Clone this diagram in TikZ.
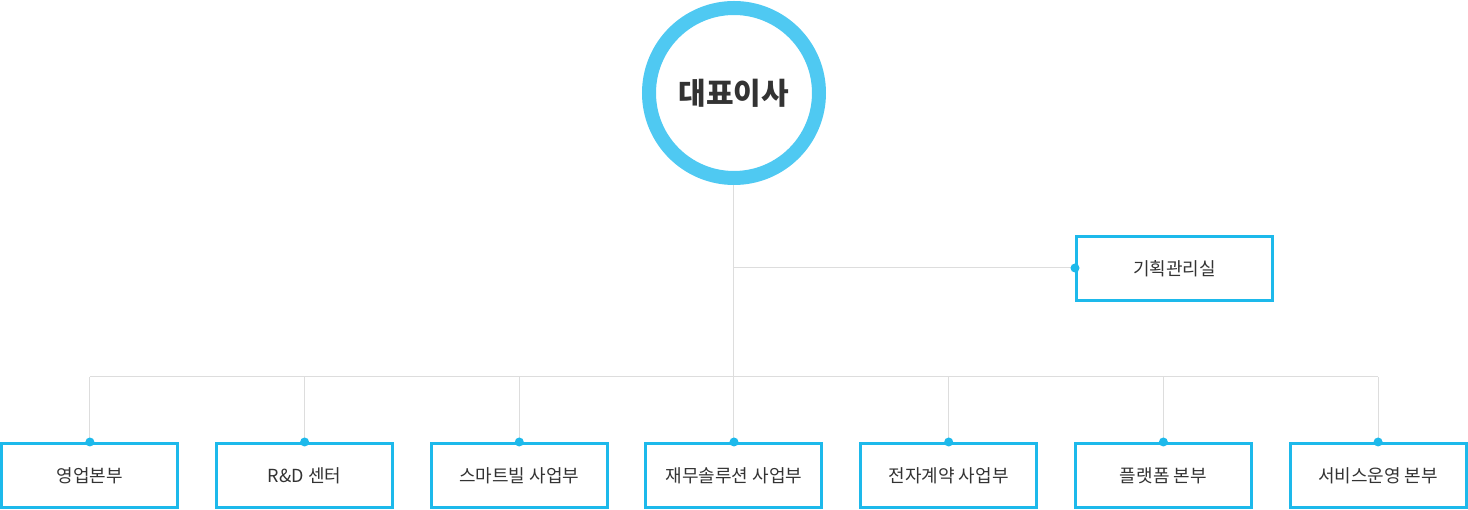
\documentclass[tikz,border=0pt]{standalone}
\usepackage{fontspec}
\setmainfont{Noto Sans CJK KR}
\usepackage{tikz}
\usetikzlibrary{positioning}

\definecolor{ringblue}{HTML}{4FC9F2}
\definecolor{boxblue}{HTML}{1DB9EB}
\definecolor{linegray}{HTML}{DDDDDD}
\definecolor{textdark}{HTML}{333333}

\begin{document}
\begin{tikzpicture}[
  x=1pt, y=1pt,
  node distance=35.7pt,
  ceo/.style={circle, draw=ringblue, line width=14pt, minimum size=170pt, inner sep=0pt, text=textdark, font=\fontsize{30}{34}\selectfont\bfseries},
  dept/.style={draw=boxblue, line width=3pt, minimum width=176pt, minimum height=64pt, inner sep=0pt, text=textdark, font=\fontsize{18}{21}\selectfont},
  staff/.style={dept, minimum width=196pt},
  link/.style={draw=linegray, line width=1pt},
  dot/.style={fill=boxblue}
]
\useasboundingbox (-734,93) rectangle (734,-417);

% Top
\node[ceo] (ceo) at (0,0) {대표이사};

% Staff office
\node[staff] (plan) at (440.5,-176) {기획관리실};

% Departments
\node[dept] (finance) at (0,-382.5) {재무솔루션 사업부};
\node[dept, left=of finance] (smart) {스마트빌 사업부};
\node[dept, left=of smart] (rnd) {R\&D 센터};
\node[dept, left=of rnd] (sales) {영업본부};
\node[dept, right=of finance] (contract) {전자계약 사업부};
\node[dept, right=of contract] (platform) {플랫폼 본부};
\node[dept, right=of platform] (service) {서비스운영 본부};

% Trunk and bus
\coordinate (branch) at (0,-175);
\coordinate (bus) at (0,-284);
\draw[link] (ceo.south) -- (bus);
\draw[link] (branch) -- (plan.west |- branch);
\draw[link] (sales.north |- bus) -- (service.north |- bus);

% Drops
\draw[link] (sales.north |- bus) -- (sales.north);
\draw[link] (rnd.north |- bus) -- (rnd.north);
\draw[link] (smart.north |- bus) -- (smart.north);
\draw[link] (bus) -- (finance.north);
\draw[link] (contract.north |- bus) -- (contract.north);
\draw[link] (platform.north |- bus) -- (platform.north);
\draw[link] (service.north |- bus) -- (service.north);

% Dots
\fill[dot] (plan.west |- branch) circle (4.5pt);
\fill[dot] (sales.north) circle (4.5pt);
\fill[dot] (rnd.north) circle (4.5pt);
\fill[dot] (smart.north) circle (4.5pt);
\fill[dot] (finance.north) circle (4.5pt);
\fill[dot] (contract.north) circle (4.5pt);
\fill[dot] (platform.north) circle (4.5pt);
\fill[dot] (service.north) circle (4.5pt);

\end{tikzpicture}
\end{document}
